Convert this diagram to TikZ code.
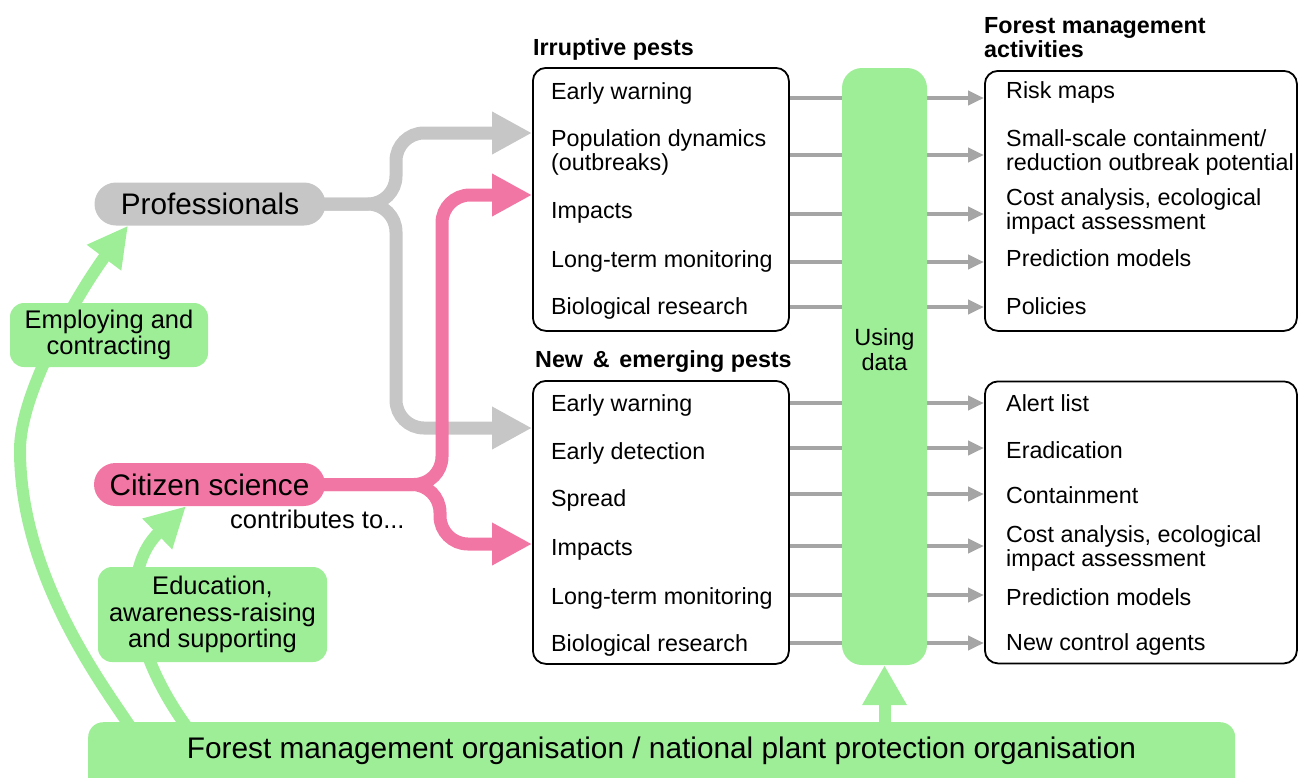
\documentclass[tikz,border=0pt]{standalone}
\usepackage{fontspec}
\setmainfont{Liberation Sans}
\usetikzlibrary{arrows.meta}
\definecolor{lgreen}{RGB}{158,238,152}
\definecolor{lpink}{RGB}{242,118,163}
\definecolor{lgray}{RGB}{198,198,198}
\definecolor{agray}{RGB}{165,165,165}
\pgfdeclarelayer{bg}
\pgfsetlayers{bg,main}
\newcommand\twoln[2]{\begin{tabular}[t]{@{}l@{}}#1\\#2\end{tabular}}
\begin{document}
\begin{tikzpicture}[x=1pt,y=-1pt,
  itemf/.style={anchor=base west, inner sep=0pt, font=\fontsize{23.3}{24}\selectfont},
  hdrf/.style={anchor=base west, inner sep=0pt, font=\fontsize{23.3}{24}\selectfont\bfseries},
  listbox/.style={draw=black, line width=1.8pt, rounded corners=13pt, anchor=north west, inner sep=0pt},
  thinarr/.style={draw=agray, line width=4pt, -{Triangle[length=16pt,width=14pt]}},
  bigarr/.style={line width=13pt, -{Triangle[length=40pt,width=40pt]}},
  gbox/.style={fill=lgreen, rounded corners=14pt, inner sep=0pt, align=center, font=\fontsize{25.5}{26.4}\selectfont},
  pill/.style={rounded corners=21.5pt, inner sep=0pt, minimum width=231pt, minimum height=43pt, font=\fontsize{29.7}{30}\selectfont}
]
\useasboundingbox (0,0) rectangle (1298,777);

% list boxes
\node[listbox, minimum width=256pt, minimum height=263pt] (ibox) at (532,67) {};
\node[listbox, minimum width=256pt, minimum height=283pt] (nbox) at (532,380) {};
\node[listbox, minimum width=312pt, minimum height=260pt] (fbox1) at (984,70) {};
\node[listbox, minimum width=312pt, minimum height=282pt] (fbox2) at (984,380.5) {};

% headers
\node[hdrf] (hir) at (533,55) {Irruptive pests};
\node[hdrf] (hne) at (535,367.3) {New\hspace{0.42em}\&\hspace{0.42em}emerging pests};
\node[hdrf] (hfm) at (984,33.5) {\twoln{Forest management}{activities}};

% items
\node[itemf] (i1) at (551,99) {Early warning};
\node[itemf] (i2) at (551,146) {\twoln{Population dynamics}{(outbreaks)}};
\node[itemf] (i3) at (551,218.5) {Impacts};
\node[itemf] (i4) at (551,267) {Long-term monitoring};
\node[itemf] (i5) at (551,314) {Biological research};

\node[itemf] (n1) at (551,411.7) {Early warning};
\node[itemf] (n2) at (551,459) {Early detection};
\node[itemf] (n3) at (551,506.7) {Spread};
\node[itemf] (n4) at (551,555) {Impacts};
\node[itemf] (n5) at (551,604) {Long-term monitoring};
\node[itemf] (n6) at (551,651.7) {Biological research};

\node[itemf] (f1) at (1006,98.3) {Risk maps};
\node[itemf] (f2) at (1006,146.7) {\twoln{Small-scale containment/}{reduction outbreak potential}};
\node[itemf] (f3) at (1006,205) {\twoln{Cost analysis, ecological}{impact assessment}};
\node[itemf] (f4) at (1006,266.7) {Prediction models};
\node[itemf] (f5) at (1006,314.3) {Policies};

\node[itemf] (g1) at (1006,411.7) {Alert list};
\node[itemf] (g2) at (1006,458.3) {Eradication};
\node[itemf] (g3) at (1006,503.3) {Containment};
\node[itemf] (g4) at (1006,542.3) {\twoln{Cost analysis, ecological}{impact assessment}};
\node[itemf] (g5) at (1006,605) {Prediction models};
\node[itemf] (g6) at (1006,650.7) {New control agents};

% using data column
\node[fill=lgreen, rounded corners=20pt, minimum width=85pt, minimum height=597pt, inner sep=0pt] (using) at (884.5,366.5) {};
\node[anchor=base, inner sep=0pt, font=\fontsize{23.5}{25}\selectfont] (usingtxt) at (884.5,345) {\begin{tabular}[t]{@{}c@{}}Using\\data\end{tabular}};

% pills
\node[pill, fill=lgray] (prof) at (210,204) {Professionals};
\node[pill, fill=lpink] (cit) at (209.5,484.5) {Citizen science};
\node[anchor=base west, inner sep=0pt, font=\fontsize{25.5}{26}\selectfont] (contrib) at (230,528.5) {contributes to...};

% green boxes
\node[gbox, minimum width=198pt, minimum height=64pt] (emp) at (109,335) {Employing and\\contracting};
\node[gbox, minimum width=229pt, minimum height=95pt] (edu) at (212.5,614.5) {Education,\\awareness-raising\\and supporting};

% bottom bar
\node[fill=lgreen, rounded corners=15pt, minimum width=1147pt, minimum height=90pt, anchor=north west, inner sep=0pt] (bar) at (88,722) {};
\node[anchor=base, inner sep=0pt, font=\fontsize{29.8}{30}\selectfont] (bartxt) at (661.5,758.3) {Forest management organisation / national plant protection organisation};
\coordinate (cb) at (using.south |- bar.north);

\begin{pgfonlayer}{bg}
\foreach \y in {98,155,214,262,307} \draw[thinarr] (ibox.east |- 0,\y) -- (fbox1.west |- 0,\y);
\foreach \y in {403,448,494,546,595,643} \draw[thinarr] (nbox.east |- 0,\y) -- (fbox2.west |- 0,\y);

\draw[bigarr, lgray, rounded corners=28pt] (prof.center) -- (396,204) -- (396,133) -- (ibox.west |- 0,133);
\draw[bigarr, lgray, rounded corners=28pt] (prof.center) -- (396,204) -- (396,428) -- (nbox.west |- 0,428);

\draw[bigarr, lpink, rounded corners=28pt] (cit.center) -- (442,484.5) -- (442,195) -- (ibox.west |- 0,195);
\draw[bigarr, lpink, rounded corners=28pt] (cit.center) -- (440,484.5) -- (440,544) -- (nbox.west |- 0,544);

\draw[bigarr, lgreen, line width=12pt] (133,731) .. controls (108,692) and (20,580) .. (20,450) .. controls (20,390) and (82,287) .. ([xshift=-82pt]prof.south);
\draw[bigarr, lgreen, line width=12pt] (189,730) .. controls (130,650) and (120,570) .. ([xshift=-23.5pt]cit.south);
\draw[bigarr, lgreen, line width=12pt, -{Triangle[length=40pt,width=42pt]}] ([yshift=-8pt]cb) -- (using.south);
\end{pgfonlayer}
\end{tikzpicture}
\end{document}
